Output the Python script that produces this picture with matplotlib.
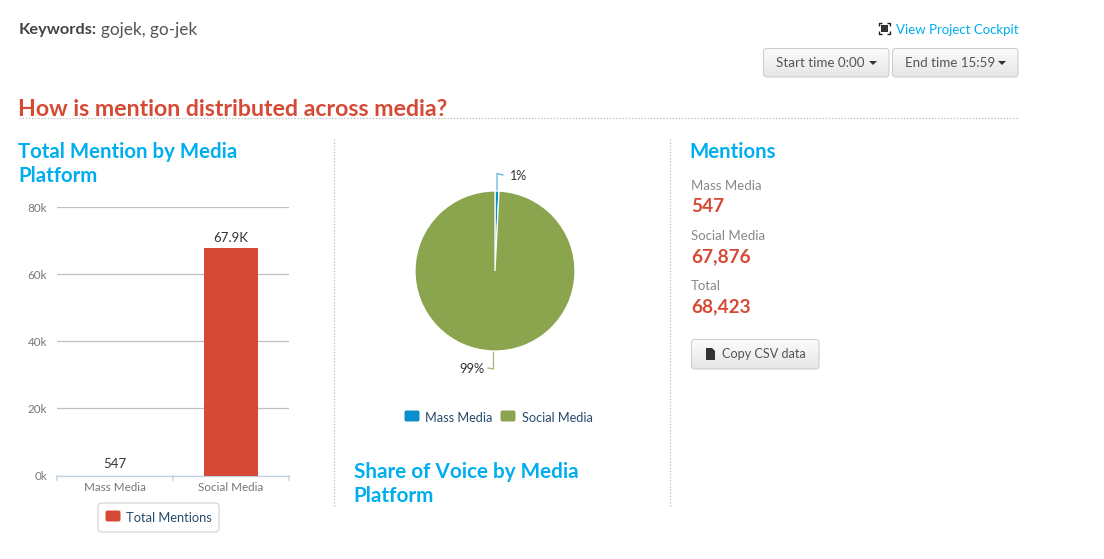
import numpy as np
import matplotlib
matplotlib.use("Agg")
import matplotlib.pyplot as plt
from matplotlib.patches import FancyBboxPatch, Rectangle, Polygon

categories = ["Mass Media", "Social Media"]
mentions = [547, 67876]
bar_labels = ["547", "67.9K"]
y_ticks = [0, 20000, 40000, 60000, 80000]
y_tick_labels = ["0k", "20k", "40k", "60k", "80k"]
pie_labels = ["1%", "99%"]

W, H = 1104, 559
FONT = "Lato"
plt.rcParams["font.family"] = [FONT, "DejaVu Sans"]
fig = plt.figure(figsize=(W / 100, H / 100), dpi=100, facecolor="white")


def axes_px(x0, y0, x1, y1, **kw):
    return fig.add_axes([x0 / W, 1 - y1 / H, (x1 - x0) / W, (y1 - y0) / H], **kw)


page = axes_px(0, 0, W, H, zorder=0)
page.set_axis_off()


def txt(x, y, s, size, color, weight="normal", ha="left", va="center"):
    page.text(x, y, s, fontsize=size * 0.72, color=color, fontweight=weight,
              ha=ha, va=va, family=[FONT, "DejaVu Sans"])


BLUE = "#00AEEF"
RED = "#D64A35"
DARK = "#444444"
GREY = "#888888"


def button(x0, y0, x1, y1):
    x0 += 0.5
    y0 += 0.5
    box = FancyBboxPatch((x0 + 3, y0 + 3), x1 - x0 - 6, y1 - y0 - 6,
                         boxstyle="round,pad=3,rounding_size=3",
                         fc="none", ec="#CDCDCD", lw=0.75, zorder=3)
    page.add_patch(box)
    grad = np.linspace(0.985, 0.90, 32).reshape(-1, 1)
    im = page.imshow(grad, extent=[x0, x1, y1, y0], cmap="gray", vmin=0, vmax=1,
                     aspect="auto", zorder=2)
    im.set_clip_path(box)


txt(18.5, 30, "Keywords:", 16.4, DARK, "bold")
txt(101, 30, "gojek, go-jek", 17.3, "#555555")
txt(896, 29.5, "View Project Cockpit", 13.3, BLUE)

# fullscreen icon
page.add_patch(Rectangle((881, 25), 7, 7, fc="#333333", ec="none"))
for cx, cy, dx, dy in [(879, 23, 1, 1), (890, 23, -1, 1), (879, 34, 1, -1), (890, 34, -1, -1)]:
    page.plot([cx + 3 * dx, cx, cx], [cy, cy, cy + 3 * dy], color="#222222", lw=1, solid_capstyle="butt")

button(763, 48, 889, 77)
button(892, 48, 1018, 77)
txt(776, 63, "Start time 0:00", 13.4, "#555555")
txt(905, 63, "End time 15:59", 13.4, "#555555")
for x in (869, 998):
    page.add_patch(Polygon([(x, 61), (x + 8, 61), (x + 4, 65)], fc="#333333", ec="none", zorder=4))

txt(18, 109.5, "How is mention distributed across media?", 23.1, RED, "bold")
page.plot([19, 1019], [118, 118], color="#BBBBBB", lw=0.9, ls=(0, (1, 1.5)))
for x in (334, 670):
    page.plot([x, x], [139, 507], color="#BBBBBB", lw=0.9, ls=(0, (1, 1.5)))

txt(18.5, 152, "Total Mention by Media", 20.4, BLUE, "bold")
txt(18, 176, "Platform", 20.4, BLUE, "bold")
txt(353.5, 472, "Share of Voice by Media", 20.6, BLUE, "bold")
txt(353, 496, "Platform", 20.6, BLUE, "bold")
txt(689.5, 152, "Mentions", 20.4, BLUE, "bold")

for y_l, lab, y_v, val in [(186, "Mass Media", 207, f"{mentions[0]:,}"),
                           (236, "Social Media", 257, f"{mentions[1]:,}"),
                           (286, "Total", 307, f"{sum(mentions):,}")]:
    txt(691, y_l, lab, 13.3, GREY)
    txt(691, y_v, val, 19, RED, "bold")

button(691, 339, 819, 369)
page.add_patch(Polygon([(706, 348), (712, 348), (715, 351), (715, 360), (706, 360)], fc="#333333", ec="none", zorder=4))
txt(722, 354.5, "Copy CSV data", 12.6, "#555555")

# bar legend
page.add_patch(FancyBboxPatch((100, 505), 117, 25, boxstyle="round,pad=2,rounding_size=4",
                              fc="white", ec="#D0D0D0", lw=0.75))
page.add_patch(FancyBboxPatch((106, 511), 14, 10, boxstyle="round,pad=0.5,rounding_size=2", fc=RED, ec="none"))
txt(126, 517.5, "Total Mentions", 12.9, "#274B6D")

# pie legend
page.add_patch(FancyBboxPatch((405, 411), 14, 10, boxstyle="round,pad=0.5,rounding_size=2", fc="#0B8FCB", ec="none"))
txt(425, 417.5, "Mass Media", 12.7, "#274B6D")
page.add_patch(FancyBboxPatch((501, 411), 14, 10, boxstyle="round,pad=0.5,rounding_size=2", fc="#8BA54E", ec="none"))
txt(522, 417.5, "Social Media", 12.7, "#274B6D")

page.set_xlim(0, W)
page.set_ylim(H, 0)

# bar chart: the Mass Media bar is too short to show in the reference
ax = axes_px(57, 207, 289, 475.5, zorder=1)
ax.patch.set_alpha(0)
ax.bar(categories, mentions, width=0.465, color=["none", RED], zorder=3)
ax.set_xlim(-0.5, 1.5)
ax.set_ylim(0, 80000)
ax.set_yticks(y_ticks, y_tick_labels)
ax.grid(axis="y", color="#C0C0C0", lw=0.9, zorder=0)
ax.set_axisbelow(True)
for s in ("top", "left", "right"):
    ax.spines[s].set_visible(False)
ax.spines["bottom"].set_color("#C0D0E0")
ax.spines["bottom"].set_linewidth(0.9)
ax.tick_params(axis="y", length=0, pad=7, labelsize=8.4, labelcolor="#777777")
ax.tick_params(axis="x", length=0, pad=5, labelsize=8.4, labelcolor="#777777")
for xt in (-0.5, 0.5, 1.5):
    ax.annotate("", xy=(xt, 0), xytext=(0, -5), xycoords=ax.get_xaxis_transform(),
                textcoords="offset pixels",
                arrowprops=dict(arrowstyle="-", color="#C0D0E0", lw=0.9, shrinkA=0, shrinkB=0))
for i, (v, s) in enumerate(zip(mentions, bar_labels)):
    ax.annotate(s, (i, v), xytext=(0, 4), textcoords="offset pixels", ha="center", va="bottom",
                fontsize=9.5, color="#333333")

# pie chart
R = 80
pa = axes_px(495 - 100, 271 - 100, 495 + 100, 271 + 100, zorder=1)
pa.set_axis_off()
pa.pie(mentions, colors=["#0B8FCB", "#8BA54E"], startangle=90, counterclock=False, radius=R / 100,
       wedgeprops=dict(edgecolor="white", linewidth=0.9))
pa.set_xlim(-1, 1)
pa.set_ylim(-1, 1)

page.plot([497, 497, 503], [191, 173.5, 175], color="#5FB4DC", lw=0.9, zorder=5, clip_on=False)
page.plot([493.5, 493.5, 488], [351, 369, 368], color="#A3B873", lw=0.9, zorder=5, clip_on=False)
txt(510, 176.5, pie_labels[0], 12.5, "#333333")
txt(459, 369, pie_labels[1], 12.7, "#333333")

fig.savefig("out.png", dpi=100)
